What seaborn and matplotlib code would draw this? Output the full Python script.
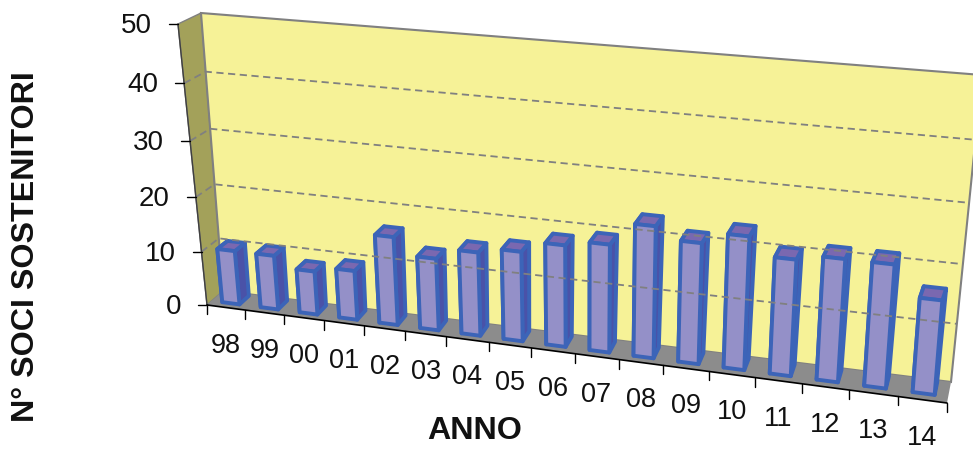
import numpy as np
import pandas as pd
import matplotlib
matplotlib.use("Agg")
import matplotlib.pyplot as plt
import seaborn as sns

anni = ["98", "99", "00", "01", "02", "03", "04", "05", "06", "07", "08", "09", "10", "11", "12", "13", "14"]
soci = [10, 10, 8, 9, 16, 13, 15, 16, 18, 19, 23, 21, 23, 20, 21, 21, 16]
ticks_y = [0, 10, 20, 30, 40, 50]
y_max = 50

# pixel corners of the 3D box (x end, top/bottom, depth front/back)
FRONT_BL, FRONT_TL = np.array([207, 305.]), np.array([178, 24.])
FRONT_BR, FRONT_TR = np.array([947, 403.]), np.array([971, 92.])
BACK_BL, BACK_TL = np.array([223, 291.]), np.array([201, 13.])
BACK_BR, BACK_TR = np.array([951, 382.]), np.array([982, 75.])
PERSP_X = 1.14
PERSP_Z = 1.07


def project(t, v, d):
    f = t / (PERSP_X + (1 - PERSP_X) * t)
    z = v / y_max
    z = z / (PERSP_Z + (1 - PERSP_Z) * z)
    front = (1 - z) * ((1 - f) * FRONT_BL + f * FRONT_BR) + z * ((1 - f) * FRONT_TL + f * FRONT_TR)
    back = (1 - z) * ((1 - f) * BACK_BL + f * BACK_BR) + z * ((1 - f) * BACK_TL + f * BACK_TR)
    return (1 - d) * front + d * back


def run_plot():
    sns.set_style("white")
    plt.rcParams["font.family"] = ["Liberation Sans", "DejaVu Sans"]

    fig = plt.figure(figsize=(9.73, 4.49), dpi=100)
    ax = fig.add_axes([0, 0, 1, 1])

    df = pd.DataFrame({"anno": anni, "soci": soci})
    sns.barplot(data=df, x="anno", y="soci", width=0.45, ax=ax)

    # take the bars seaborn laid out, then redraw them in perspective
    rects = [(p.get_x(), p.get_width(), p.get_height()) for p in ax.patches]
    for p in list(ax.patches):
        p.remove()
    ax.set_xlabel("")
    ax.set_ylabel("")
    ax.set_xlim(0, 973)
    ax.set_ylim(449, 0)
    ax.axis("off")

    n = len(anni)
    wall_c, side_c, floor_c = "#F6F297", "#A3A15A", "#8C8C8C"
    edge_c = "#808080"

    ax.fill(*zip(project(0, 0, 0), project(0, y_max, 0), project(0, y_max, 1), project(0, 0, 1)),
            color=side_c, ec=edge_c, lw=1)
    ax.fill(*zip(project(0, 0, 1), project(0, y_max, 1), project(1, y_max, 1), project(1, 0, 1)),
            color=wall_c, ec=edge_c, lw=1.5)
    ax.fill(*zip(project(0, 0, 0), project(0, 0, 1), project(1, 0, 1), project(1, 0, 0)),
            color=floor_c, lw=0)

    for v in ticks_y[1:-1]:
        pts = np.array([project(0, v, 0), project(0, v, 1), project(1, v, 1)])
        ax.plot(pts[:, 0], pts[:, 1], color=edge_c, lw=1.3, ls=(0, (4, 2.5)))

    # axis lines
    pts = np.array([project(0, 0, 0), project(0, y_max, 0)])
    ax.plot(pts[:, 0], pts[:, 1], color="#404040", lw=1)
    pts = np.array([project(0, 0, 0), project(1, 0, 0)])
    ax.plot(pts[:, 0], pts[:, 1], color="black", lw=1.2)

    for v in ticks_y:
        p = project(0, v, 0)
        ax.plot([p[0] - 9, p[0]], [p[1], p[1]], color="black", lw=1)
        ax.text(p[0] - 26, p[1] + 2, str(v), ha="right", va="center", fontsize=20, color="#111111")

    for i in range(n + 1):
        p = project(i / n, 0, 0)
        ax.plot([p[0], p[0]], [p[1], p[1] + 9], color="black", lw=1)

    for i, lab in enumerate(anni):
        p = project((i + 0.5) / n, 0, 0)
        ax.text(p[0], p[1] + 38, lab, ha="center", va="center", fontsize=19.5, color="#111111")

    # bars
    d0, d1 = 0.3, 0.9
    bar_edge = "#3C64B8"
    for x, w, h in rects:
        t0 = (x + 0.5) / n
        t1 = (x + w + 0.5) / n
        faces = [
            ([(t1, 0, d0), (t1, h, d0), (t1, h, d1), (t1, 0, d1)], "#4A52A8"),
            ([(t0, 0, d0), (t0, h, d0), (t0, h, d1), (t0, 0, d1)], "#4A52A8"),
            ([(t0, h, d0), (t1, h, d0), (t1, h, d1), (t0, h, d1)], "#7A68B0"),
            ([(t0, 0, d0), (t1, 0, d0), (t1, h, d0), (t0, h, d0)], "#9490C8"),
        ]
        for corners, col in faces:
            pts = np.array([project(*c) for c in corners])
            ax.fill(pts[:, 0], pts[:, 1], fc=col, ec=bar_edge, lw=2.8, joinstyle="round")

    ax.text(475, 431, "ANNO", ha="center", va="center", fontsize=23.2, fontweight="bold", color="#111111")
    ax.text(26, 247, "N° SOCI SOSTENITORI", rotation=90, ha="center", va="center",
            fontsize=23.2, fontweight="bold", color="#111111")

    fig.savefig("out.png", dpi=100)


if __name__ == "__main__":
    run_plot()
